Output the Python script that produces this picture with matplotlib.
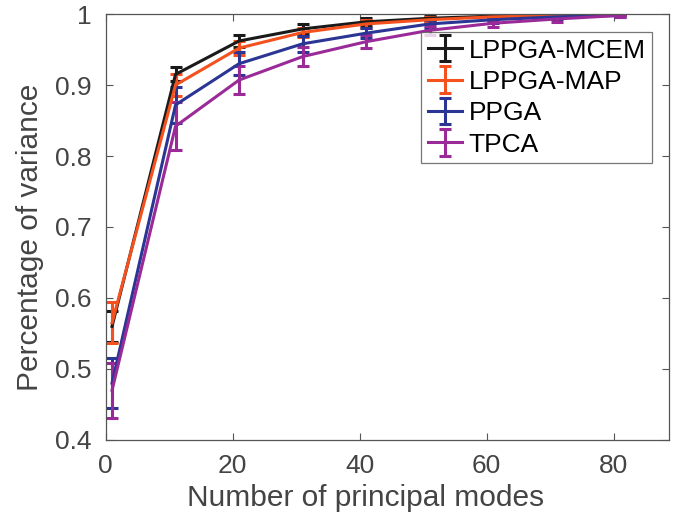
# Percentage of variance vs. number of principal modes, four methods with error bars

import matplotlib.pyplot as plt

plt.rcParams['font.family'] = ['Liberation Sans', 'DejaVu Sans']

# --- Data ----------------------------------------------------------
modes = [1, 11, 21, 31, 41, 51, 61, 71, 81]

mcem = [0.560, 0.915, 0.962, 0.979, 0.989, 0.994, 0.997, 0.998, 0.999]
mcem_err = [0.022, 0.010, 0.008, 0.007, 0.006, 0.004, 0.003, 0.002, 0.001]

map_ = [0.565, 0.900, 0.952, 0.974, 0.986, 0.992, 0.996, 0.998, 0.999]
map_err = [0.029, 0.015, 0.010, 0.007, 0.006, 0.004, 0.003, 0.002, 0.001]

ppga = [0.480, 0.872, 0.930, 0.958, 0.973, 0.986, 0.992, 0.996, 0.998]
ppga_err = [0.035, 0.025, 0.016, 0.011, 0.007, 0.005, 0.004, 0.003, 0.002]

tpca = [0.470, 0.842, 0.907, 0.940, 0.961, 0.977, 0.987, 0.993, 0.998]
tpca_err = [0.039, 0.034, 0.020, 0.013, 0.009, 0.006, 0.005, 0.004, 0.002]

series = [
    ('LPPGA-MCEM', mcem, mcem_err, '#1a1a1a'),
    ('LPPGA-MAP', map_, map_err, '#f4511e'),
    ('PPGA', ppga, ppga_err, '#2a3594'),
    ('TPCA', tpca, tpca_err, '#9a2a98'),
]

# --- Plot ----------------------------------------------------------
fig = plt.figure(figsize=(6.88, 5.21), dpi=100)
ax = fig.add_axes([0.1536, 0.1555, 0.8188, 0.8176])

for name, y, err, col in series:
    ax.errorbar(modes, y, yerr=err, color=col, lw=2.2, elinewidth=2.2,
                capsize=4, capthick=2.2, label=name)

ax.set_xlim(0, 88.7)
ax.set_ylim(0.4, 1.0)
ax.set_xticks([0, 20, 40, 60, 80])
ax.set_yticks([0.4, 0.5, 0.6, 0.7, 0.8, 0.9, 1.0])
ax.set_yticklabels(['0.4', '0.5', '0.6', '0.7', '0.8', '0.9', '1'])

txt = '#444444'
ax.tick_params(direction='in', top=True, right=True, length=5, width=0.8,
               labelsize=19, colors='#555555', labelcolor=txt, pad=10)
for s in ax.spines.values():
    s.set_color('#555555')
    s.set_linewidth(0.9)

ax.set_xlabel('Number of principal modes', fontsize=21.5, color=txt)
ax.set_ylabel('Percentage of variance', fontsize=21.5, color=txt, labelpad=8)
ax.xaxis.set_label_coords(0.462, -0.104)
ax.yaxis.label.set_y(0.475)

leg = ax.legend(loc='upper right', bbox_to_anchor=(0.970, 0.958), fontsize=19,
                frameon=True, fancybox=False, handlelength=1.3, handletextpad=0.25,
                labelspacing=0.28, borderpad=0.25, borderaxespad=0)
leg.get_frame().set_edgecolor('#555555')
leg.get_frame().set_linewidth(0.9)

plt.savefig('out.png', dpi=100)
